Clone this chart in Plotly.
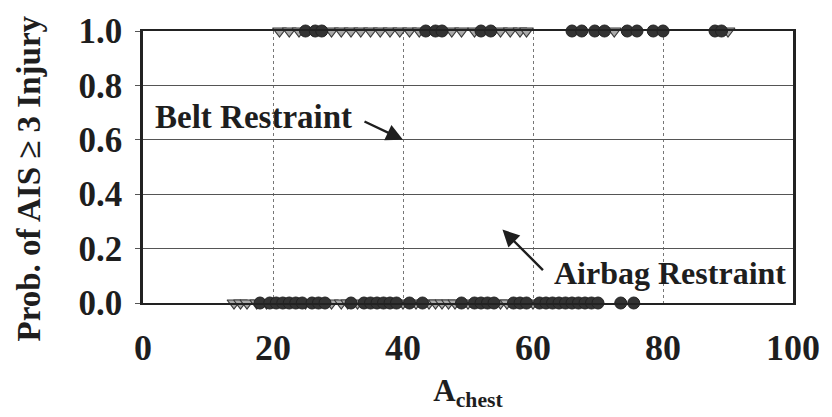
import plotly.graph_objects as go

# Observed cases: A_chest value and injury outcome (0 = no AIS>=3, 1 = AIS>=3)
belt_injured_x = [21, 22.5, 24, 29, 30.5, 32, 33.5, 35, 36.5, 38, 39.5, 41, 42.5,
                  47.5, 49, 51, 55, 56.5, 58, 59, 72.5, 90]
airbag_injured_x = [25, 26.5, 27.5, 43.5, 45, 46, 52, 53.5, 66, 67.5, 69.5, 71,
                    74.5, 76, 78.5, 80, 88, 89]

belt_uninjured_x = [14, 15, 16, 17.5, 19, 25, 29, 30.5, 31.5, 33, 40, 42, 44, 45,
                    46, 47, 48, 50, 55, 56, 60]
airbag_uninjured_x = [18, 19.5, 20.5, 21.5, 22.5, 23.5, 24.5, 26, 27, 28, 32, 34,
                      35, 36, 37, 38, 39, 41, 43, 49, 51, 52, 53, 54, 57, 58, 59,
                      61, 62, 63, 64, 65, 66, 67, 68, 69, 70, 73.5, 75.5]

x_ticks = [0, 20, 40, 60, 80, 100]
y_ticks = [0.0, 0.2, 0.4, 0.6, 0.8, 1.0]
y_tick_text = ["0.0", "0.2", "0.4", "0.6", "0.8", "1.0"]

font_family = "Liberation Serif"
ink = "#1e1e1e"
W, H = 832, 417

fig = go.Figure()

fig.add_trace(go.Scatter(
    x=belt_uninjured_x + belt_injured_x,
    y=[0] * len(belt_uninjured_x) + [1] * len(belt_injured_x),
    mode="markers",
    name="Belt Restraint",
    cliponaxis=False,
    marker=dict(symbol="triangle-down", size=12, color="#a9a9a9",
                line=dict(color="#3a3a3a", width=1.2)),
))

fig.add_trace(go.Scatter(
    x=airbag_uninjured_x + airbag_injured_x,
    y=[0] * len(airbag_uninjured_x) + [1] * len(airbag_injured_x),
    mode="markers",
    name="Airbag Restraint",
    cliponaxis=False,
    marker=dict(symbol="circle", size=12, color="#333333",
                line=dict(color="#222222", width=1)),
))

fig.add_annotation(x=17, y=0.685, text="<b>Belt Restraint</b>", showarrow=False,
                   font=dict(family=font_family, size=33, color=ink))
fig.add_annotation(x=40, y=0.6, ax=-40, ay=-19, text="", showarrow=True,
                   arrowhead=2, arrowsize=1.4, arrowwidth=2.4, arrowcolor=ink)

fig.add_annotation(x=81.0, y=0.11, text="<b>Airbag Restraint</b>", showarrow=False,
                   font=dict(family=font_family, size=32, color=ink))
fig.add_annotation(x=55.3, y=0.27, ax=42, ay=42, text="", showarrow=True,
                   arrowhead=2, arrowsize=1.4, arrowwidth=2.4, arrowcolor=ink)

# Vertical axis title placed in page coordinates
fig.add_annotation(xref="paper", yref="paper", x=-(143 - 27) / (W - 143 - 29),
                   y=(H - 114 - 176) / (H - 25 - 114), xanchor="center",
                   yanchor="middle", textangle=-90, showarrow=False,
                   text="<b>Prob. of AIS \u2265 3 Injury</b>",
                   font=dict(family=font_family, size=33, color=ink))

fig.update_layout(
    width=W, height=H,
    margin=dict(l=143, r=29, t=25, b=114),
    paper_bgcolor="white", plot_bgcolor="white",
    showlegend=False,
    font=dict(family=font_family, color=ink),
)

fig.update_xaxes(
    range=[0, 100], tickvals=x_ticks, ticktext=["<b>%d</b>" % v for v in x_ticks],
    tickfont=dict(family=font_family, size=36, color=ink),
    showline=True, linecolor="#222222", linewidth=2, mirror=True,
    showgrid=True, gridcolor="#777777", gridwidth=1, griddash="dot",
    zeroline=False, ticks="", ticklabelstandoff=12,
    title=dict(text="<b>A<sub>chest</sub></b>",
               font=dict(family=font_family, size=31, color=ink), standoff=12),
)
fig.update_yaxes(
    range=[0, 1], tickvals=y_ticks, ticktext=["<b>%s</b>" % t for t in y_tick_text],
    tickfont=dict(family=font_family, size=35, color=ink),
    showline=True, linecolor="#222222", linewidth=2.5, mirror=True,
    showgrid=True, gridcolor="#555555", gridwidth=1,
    zeroline=False, ticks="outside", ticklen=5, tickcolor="#555555",
    ticklabelstandoff=6,
)

fig.write_html("out.html")
